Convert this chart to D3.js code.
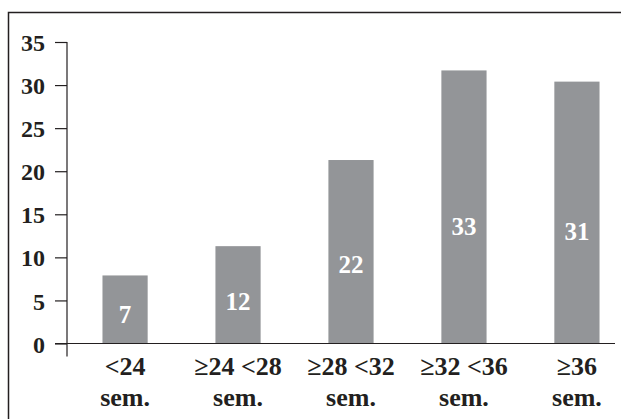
<!DOCTYPE html>
<html>
<head>
<meta charset="utf-8">
<script src="https://cdn.jsdelivr.net/npm/d3@7"></script>
<style>
  body { margin: 0; background: #fff; }
  svg { display: block; }
  text { font-family: "Liberation Serif", "Times New Roman", serif; font-weight: bold; }
</style>
</head>
<body>
<script>
// data
var categories = ['<24|sem.', '≥24 <28|sem.', '≥28 <32|sem.', '≥32 <36|sem.', '≥36|sem.']
var values = [7.9, 11.3, 21.3, 31.7, 30.4]   // bar heights
var labels = ['7', '12', '22', '33', '31']   // printed numbers
var yTicks = [0, 5, 10, 15, 20, 25, 30, 35]

var width = 621, height = 419
var x0 = 67, yBase = 343.5, yTop = 42

var svg = d3.select('body').append('svg')
  .attr('width', width)
  .attr('height', height)

// frame (top + left edges visible)
svg.append('path')
  .attr('d', 'M8.5,' + height + 'V12.5H' + width)
  .attr('fill', 'none')
  .attr('stroke', '#231f20')
  .attr('stroke-width', 1.5)

var y = d3.scaleLinear().domain([0, 35]).range([yBase, yTop])

var x = d3.scaleBand()
  .domain(categories)
  .range([x0, 635])
  .paddingInner(0.6)
  .paddingOuter(0.314)

// bars
svg.selectAll('rect.bar')
  .data(values)
  .enter().append('rect')
    .attr('class', 'bar')
    .attr('x', (d, i) => x(categories[i]))
    .attr('width', x.bandwidth())
    .attr('y', d => y(d))
    .attr('height', d => y(0) - y(d))
    .attr('fill', '#939598')

// value labels inside bars
svg.selectAll('text.val')
  .data(values)
  .enter().append('text')
    .attr('class', 'val')
    .attr('x', (d, i) => x(categories[i]) + x.bandwidth() / 2)
    .attr('y', d => y(d * 0.43))
    .attr('dy', '0.35em')
    .attr('text-anchor', 'middle')
    .attr('fill', '#fff')
    .style('font-size', '25px')
    .text((d, i) => labels[i])

// y axis
var yAxis = d3.axisLeft(y).tickValues(yTicks).tickSize(12).tickPadding(10)
var gy = svg.append('g')
  .attr('transform', 'translate(' + x0 + ',0)')
  .call(yAxis)
gy.select('.domain').remove()
gy.selectAll('.tick line').attr('stroke', '#231f20').attr('stroke-width', 1.2)
gy.selectAll('.tick text')
  .attr('fill', '#231f20')
  .attr('dy', '0.36em')
  .style('font-size', '24px')
  .style('font-family', '"Liberation Serif", serif')
  .style('font-weight', 'bold')

svg.append('line')
  .attr('x1', x0).attr('x2', x0)
  .attr('y1', yTop).attr('y2', yBase + 13)
  .attr('stroke', '#231f20').attr('stroke-width', 1.2)

// x axis line
svg.append('line')
  .attr('x1', x0 - 12).attr('x2', 615)
  .attr('y1', yBase).attr('y2', yBase)
  .attr('stroke', '#231f20').attr('stroke-width', 1.2)

// category labels (two lines)
var cat = svg.selectAll('text.cat')
  .data(categories)
  .enter().append('text')
    .attr('class', 'cat')
    .attr('text-anchor', 'middle')
    .attr('fill', '#231f20')
    .style('font-size', '26px')

cat.each(function (d) {
  var parts = d.split('|')
  var cx = x(d) + x.bandwidth() / 2
  d3.select(this).selectAll('tspan')
    .data(parts)
    .enter().append('tspan')
      .attr('x', cx)
      .attr('y', (p, j) => 375 + j * 31)
      .text(p => p)
})
</script>
</body>
</html>
